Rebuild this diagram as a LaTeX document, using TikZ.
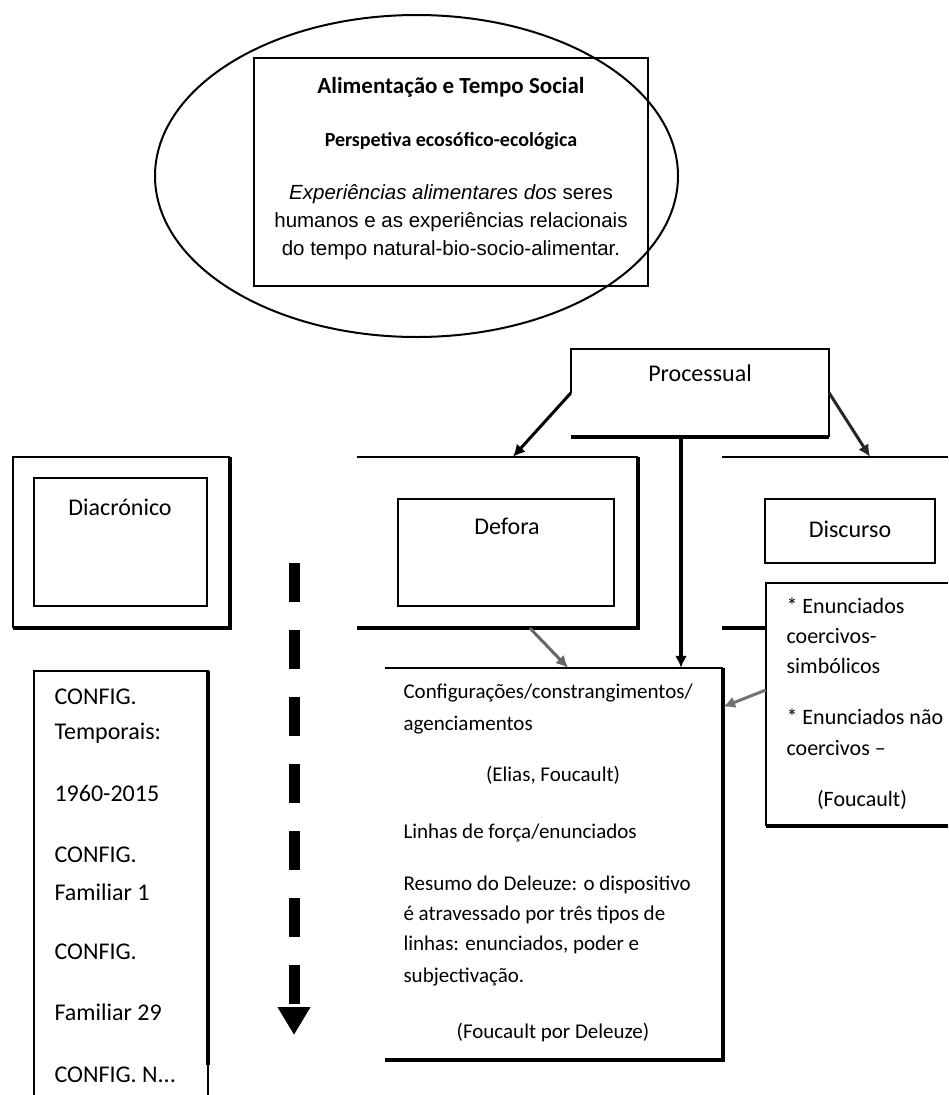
\documentclass[tikz,border=0pt]{standalone}
\usepackage{fontspec}
\setmainfont{Carlito}
\newfontfamily\arialf{Liberation Sans}
\usetikzlibrary{shapes.geometric,arrows.meta,positioning}

\begin{document}
\begin{tikzpicture}[x=1pt,y=-1pt,
    thinline/.style ={line width=1.5pt},
    thickline/.style ={line width=4pt},
    frame/.style ={rectangle, draw=none, inner sep=0pt},
    inbox/.style ={rectangle, draw=black, line width=1.5pt, inner sep=0pt},
    boxlabel/.style ={font=\fontsize{24}{28}\selectfont},
    cfgtext/.style ={anchor=west, font=\fontsize{21}{25}\selectfont},
    lefttext/.style ={anchor=west, font=\fontsize{24}{28}\selectfont},
    enuntext/.style ={anchor=west, font=\fontsize{22}{26}\selectfont},
    line/.style ={draw, line width=3pt, -{Latex[length=12pt,width=12pt]}}]
    \useasboundingbox (0,0) rectangle (948,1095);
    % title ellipse and its box
    \node [ellipse, draw=black, line width=2pt, minimum width=523, minimum height=322] (ell) at (416.5,176) {};
    \node [inbox, minimum width=394, minimum height=228] (topbox) at (451,172) {};
    \node [font=\bfseries\fontsize{23}{27}\selectfont] (ttl) at (451,87) {Alimentação e Tempo Social};
    \node [font=\bfseries\fontsize{20}{24}\selectfont] (persp) at (451,141) {Perspetiva ecosófico-ecológica};
    \node [align=center, font=\arialf\fontsize{20.5}{28}\selectfont] (exper) at (451,222)
      {\textit{Experiências alimentares dos} seres\\humanos e as experiências relacionais\\do tempo natural-bio-socio-alimentar.};
    % frames (open on some sides)
    \node [frame, minimum width=258, minimum height=88] (proc) at (700,393) {};
    \node [frame, minimum width=217, minimum height=171] (diaout) at (121.5,542.5) {};
    \node [frame, minimum width=281, minimum height=171] (defout) at (497.5,542.5) {};
    \node [frame, minimum width=226, minimum height=171] (discout) at (835,542.5) {};
    \node [frame, minimum width=182, minimum height=243] (enun) at (857,704.5) {};
    \node [frame, minimum width=338, minimum height=392] (cfg) at (554,864) {};
    \node [frame, minimum width=174, minimum height=429] (cfgleft) at (121,885.5) {};
    % inner boxes
    \node [inbox, minimum width=173, minimum height=128] (diain) at (120.5,542) {};
    \node [inbox, minimum width=216, minimum height=107] (defin) at (506,552.5) {};
    \node [inbox, minimum width=170, minimum height=64] (discin) at (850,531) {};
    % borders
    \draw [thinline] (proc.west) -- (proc.north west) -- (proc.north east) -- (proc.south east);
    \draw [thickline] (proc.south east) -- (proc.south west);
    \draw [thinline] (diaout.south west) -- (diaout.north west) -- (diaout.north east);
    \draw [thickline] (diaout.north east) -- (diaout.south east) -- (diaout.south west);
    \draw [thinline] (defout.north west) -- (defout.north east);
    \draw [thickline] (defout.north east) -- (defout.south east) -- (defout.south west);
    \draw [thinline] (discout.north west) -- (discout.north east);
    \draw [thickline] (discout.south west) -- (discout.south west -| enun.west);
    \draw [thinline] (enun.north east) -- (enun.north west) -- (enun.south west);
    \draw [thickline] (enun.south west) -- (enun.south east);
    \draw [thinline] (cfg.north west) -- (cfg.north east);
    \draw [thickline] (cfg.north east) -- (cfg.south east) -- (cfg.south west);
    \draw [thinline] (cfgleft.south west) -- (cfgleft.north west) -- (cfgleft.north east) -- (cfgleft.south east);
    \draw [thickline] (cfgleft.north east) -- ([yshift=35]cfgleft.south east);
    % labels
    \node [boxlabel] (proclbl) at (700,373) {Processual};
    \node [boxlabel] (dialbl) at (120,507) {Diacrónico};
    \node [boxlabel] (deflbl) at (507,526) {Defora};
    \node [boxlabel] (disclbl) at (850,529) {Discurso};
    % enunciados
    \node [enuntext] (en1) at (783,606) {* Enunciados};
    \node [enuntext] (en2) at (783,636) {coercivos-};
    \node [enuntext] (en3) at (783,666) {simbólicos};
    \node [enuntext] (en4) at (783,717) {* Enunciados não};
    \node [enuntext] (en5) at (783,748) {coercivos –};
    \node [font=\fontsize{22}{26}\selectfont] (en6) at (862,800) {(Foucault)};
    % configuracoes
    \node [cfgtext] (cf1) at (400,693) {Configurações/constrangimentos/};
    \node [cfgtext] (cf2) at (400,725) {agenciamentos};
    \node [font=\fontsize{21}{25}\selectfont] (cf3) at (553,775) {(Elias, Foucault)};
    \node [cfgtext] (cf4) at (400,833) {Linhas de força/enunciados};
    \node [cfgtext] (cf5) at (400,885) {Resumo do Deleuze: o dispositivo};
    \node [cfgtext] (cf6) at (400,915) {é atravessado por três tipos de};
    \node [cfgtext] (cf7) at (400,945) {linhas: enunciados, poder e};
    \node [cfgtext] (cf8) at (400,977) {subjectivação.};
    \node [font=\fontsize{21}{25}\selectfont] (cf9) at (553,1032) {(Foucault por Deleuze)};
    % left column
    \node [lefttext] (lt1) at (51,697) {CONFIG.};
    \node [lefttext] (lt2) at (51,733) {Temporais:};
    \node [lefttext] (lt3) at (51,793) {1960-2015};
    \node [lefttext] (lt4) at (51,855) {CONFIG.};
    \node [lefttext] (lt5) at (51,892) {Familiar 1};
    \node [lefttext] (lt6) at (51,952) {CONFIG.};
    \node [lefttext] (lt7) at (51,1012) {Familiar 29};
    \node [lefttext] (lt8) at (51,1075) {CONFIG. N...};
    % time arrow
    \coordinate (tdtop) at (294,563);
    \coordinate (tdbot) at (294,1035);
    \draw [line width=11pt, dash pattern=on 39pt off 28pt, -{Triangle[width=31pt,length=28pt]}] (tdtop) -- (tdbot);
    % connectors
    \path [line] (proc.west) -- ([xshift=15.5]defout.north);
    \path [line, draw=black!85, -{Latex[length=12pt,width=12pt,fill=black!85]}] (proc.east) -- ([xshift=35]discout.north);
    \path [line, line width=4pt] ([xshift=-19]proc.south) -- ([xshift=-19]proc.south |- cfg.north);
    \path [line, draw=black!60] ([xshift=32.5]defout.south) -- ([xshift=14]cfg.north);
    \path [line, draw=black!55] ([yshift=14.5]enun.west) -- ([yshift=-39]cfg.north east);
\end{tikzpicture}
\end{document}
